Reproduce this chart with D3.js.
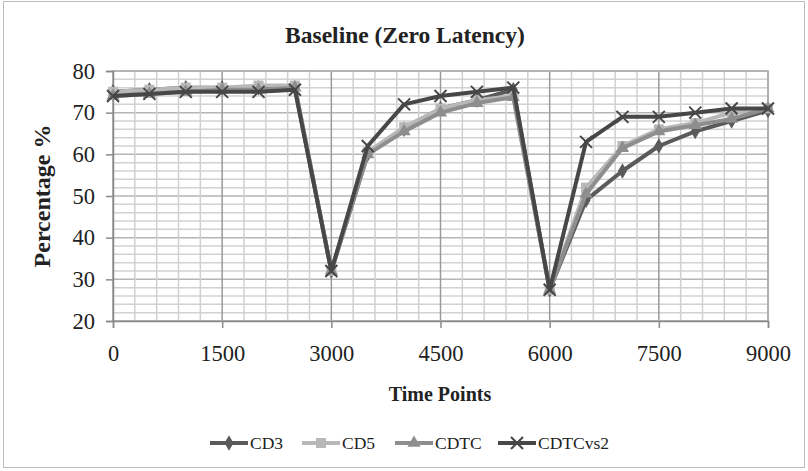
<!DOCTYPE html>
<html><head><meta charset="utf-8">
<script src="https://cdn.jsdelivr.net/npm/d3@7/dist/d3.min.js"></script>
<style>body{margin:0;background:#fff}svg{display:block}text{font-family:"Liberation Serif","DejaVu Serif",serif}</style>
</head><body>
<svg id="c" width="808" height="471"></svg>
<script>
const timePoints = [0,500,1000,1500,2000,2500,3000,3500,4000,4500,5000,5500,6000,6500,7000,7500,8000,8500,9000];
const seriesNames = ["CD3","CD5","CDTC","CDTCvs2"];
const cd3     = [75,75.5,76,76,76,76,32,60,66,71,73,75.5,27.5,49,56,62,65.5,68,70.5];
const cd5     = [75,75.5,76,76,76.5,76.5,32,60.5,66.5,71,73,74,27.5,52,62,66,67.5,70,71];
const cdtc    = [74,74.5,75,75.5,75.5,76,32,60,65.5,70,72.3,73.7,27.5,50.5,61.5,65.5,67,68.5,71];
const cdtcvs2 = [74,74.5,75,75,75,75.5,32,62,72,74,75,76,27.5,63,69,69,70,71,71];
const xTicks = [0,1500,3000,4500,6000,7500,9000];
const yTicks = [20,30,40,50,60,70,80];
const title = "Baseline (Zero Latency)";
const xTitle = "Time Points";
const yTitle = "Percentage %";

const seriesValues = [cd3, cd5, cdtc, cdtcvs2];
const colors = ["#5a5a5a","#b8b8b8","#8e8e8e","#474747"];
const shapes = ["diamond","square","triangle","x"];

const svg = d3.select("#c");
const x = d3.scaleLinear().domain([0,9000]).range([113,768]);
const y = d3.scaleLinear().domain([20,80]).range([321,71]);

// outer border
svg.append("rect").attr("x",3.5).attr("y",1.5).attr("width",801).attr("height",466)
  .attr("fill","none").attr("stroke","#bdbdbd").attr("stroke-width",1);

// grid
const g = svg.append("g");
d3.range(20,80.01,2).forEach(v=>{
  g.append("line").attr("x1",x(0)).attr("x2",x(9000)).attr("y1",y(v)).attr("y2",y(v))
   .attr("stroke", v%10===0 ? "#b5b5b5" : "#d2d2d2").attr("stroke-width",1.5);
});
d3.range(0,9000.1,300).forEach(v=>{
  g.append("line").attr("x1",x(v)).attr("x2",x(v)).attr("y1",y(20)).attr("y2",y(80))
   .attr("stroke", v%1500===0 ? "#9a9a9a" : "#d0d0d0").attr("stroke-width",1.5);
});
g.append("rect").attr("x",x(0)).attr("y",y(80)).attr("width",x(9000)-x(0)).attr("height",y(20)-y(80))
  .attr("fill","none").attr("stroke","#b0b0b0").attr("stroke-width",1.5);

// axes
const xAxis = d3.axisBottom(x).tickValues(xTicks).tickSize(7).tickPadding(17).tickFormat(d3.format("d"));
const gx = svg.append("g").attr("transform",`translate(0,${y(20)})`).call(xAxis);
const yAxis = d3.axisLeft(y).tickValues(yTicks).tickSize(7).tickPadding(11);
const gy = svg.append("g").attr("transform",`translate(${x(0)},0)`).call(yAxis);
[gx,gy].forEach(a=>{
  a.select(".domain").attr("stroke","#8a8a8a").attr("stroke-width",1.5);
  a.selectAll(".tick line").attr("stroke","#8a8a8a").attr("stroke-width",1.5);
  a.selectAll("text").attr("font-size",22.5).attr("fill","#222")
   .attr("font-family",'"Liberation Serif",serif');
});
gx.selectAll("text").attr("dy","0.71em");

// series
const line = d3.line().x((d,i)=>x(timePoints[i])).y(d=>y(d));
function marker(sel, shape, color, cx, cy){
  if(shape==="diamond"){
    sel.append("path").attr("d",d3.symbol(d3.symbolDiamond,70)()).attr("transform",`translate(${cx},${cy})`).attr("fill",color);
  } else if(shape==="square"){
    sel.append("rect").attr("x",cx-5).attr("y",cy-5).attr("width",10).attr("height",10).attr("fill",color);
  } else if(shape==="triangle"){
    sel.append("path").attr("d",d3.symbol(d3.symbolTriangle,75)()).attr("transform",`translate(${cx},${cy})`).attr("fill",color);
  } else {
    sel.append("path").attr("d",`M${cx-6},${cy-6}L${cx+6},${cy+6}M${cx-6},${cy+6}L${cx+6},${cy-6}`)
      .attr("stroke",color).attr("stroke-width",2).attr("fill","none");
  }
}
seriesValues.forEach((vals,si)=>{
  const sg = svg.append("g");
  sg.append("path").datum(vals).attr("d",line).attr("fill","none")
    .attr("stroke",colors[si]).attr("stroke-width",4).attr("stroke-linejoin","round");
  vals.forEach((v,i)=>marker(sg, shapes[si], colors[si], x(timePoints[i]), y(v)));
});

// titles
svg.append("text").attr("x",405).attr("y",43).attr("text-anchor","middle")
  .attr("font-size",23.5).attr("font-weight","bold").attr("fill","#222").text(title);
svg.append("text").attr("x",440).attr("y",401).attr("text-anchor","middle")
  .attr("font-size",20).attr("font-weight","bold").attr("fill","#222").text(xTitle);
svg.append("text").attr("transform","translate(50,196) rotate(-90)").attr("text-anchor","middle")
  .attr("font-size",24).attr("font-weight","bold").attr("fill","#222").text(yTitle);

// legend
const legX = [210,302,395,498];
seriesNames.forEach((n,i)=>{
  const lg = svg.append("g");
  const lx = legX[i], ly = 443;
  lg.append("line").attr("x1",lx).attr("x2",lx+38).attr("y1",ly).attr("y2",ly)
    .attr("stroke",colors[i]).attr("stroke-width",4);
  marker(lg, shapes[i], colors[i], lx+19, ly);
  lg.append("text").attr("x",lx+40).attr("y",ly+6).attr("font-size",17.5).attr("fill","#222").text(n);
});
</script>
</body></html>
